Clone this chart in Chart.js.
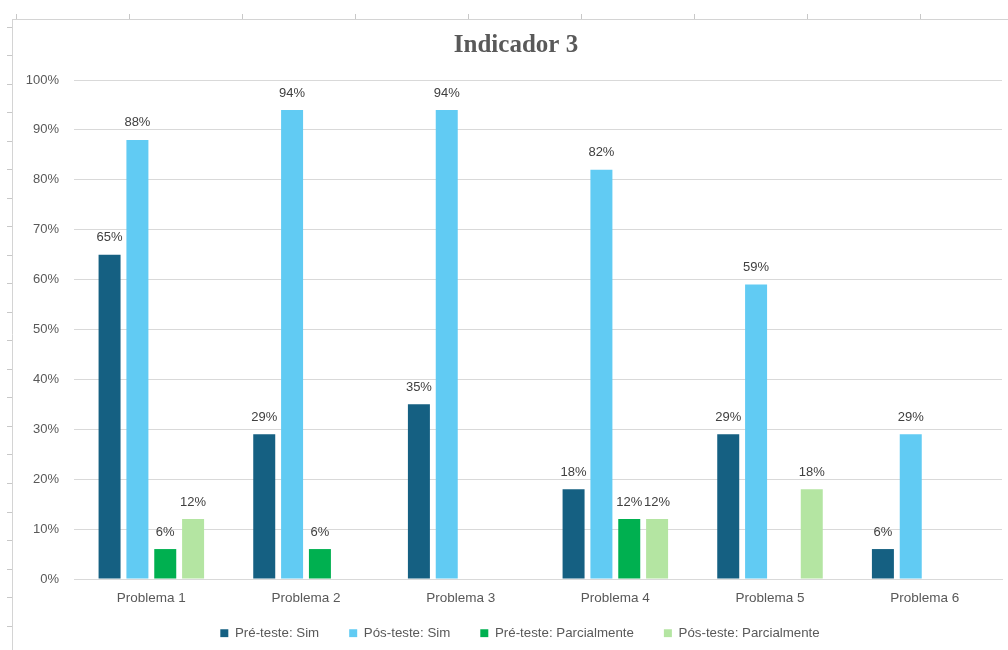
<!DOCTYPE html>
<html>
<head>
<meta charset="utf-8">
<title>Indicador 3</title>
<script src="https://cdn.jsdelivr.net/npm/chart.js@4"></script>
<style>
  html, body { margin: 0; padding: 0; background: #ffffff; }
  #wrap { width: 1008px; height: 650px; position: relative; }
  canvas { display: block; }
</style>
</head>
<body>
<div id="wrap"><canvas id="chart" width="1008" height="650"></canvas></div>
<script>
// Categories and series values (percent)
const categories = ['Problema 1', 'Problema 2', 'Problema 3', 'Problema 4', 'Problema 5', 'Problema 6'];
const preTesteSim = [65, 29, 35, 18, 29, 6];
const posTesteSim = [88, 94, 94, 82, 59, 29];
const preTesteParcial = [6, 6, null, 12, null, null];
const posTesteParcial = [12, null, null, 12, 18, null];
const yTicks = [0, 10, 20, 30, 40, 50, 60, 70, 80, 90, 100];

const seriesNames = ['Pré-teste: Sim', 'Pós-teste: Sim', 'Pré-teste: Parcialmente', 'Pós-teste: Parcialmente'];
const seriesColors = ['#156082', '#61CBF3', '#00B050', '#B4E5A2'];

const SANS = "'Liberation Sans', Arial, sans-serif";
const GRID = '#D9D9D9';
const TEXT = '#595959';

// Worksheet frame behind the chart (cell borders of the sheet)
const sheetFrame = {
  id: 'sheetFrame',
  beforeDraw(chart) {
    const ctx = chart.ctx;
    ctx.save();
    ctx.fillStyle = '#ffffff';
    ctx.fillRect(0, 0, chart.width, chart.height);
    ctx.strokeStyle = '#D4D4D4';
    ctx.lineWidth = 1;
    ctx.beginPath();
    ctx.moveTo(12, 19.5); ctx.lineTo(chart.width, 19.5);
    ctx.moveTo(12.5, 19); ctx.lineTo(12.5, chart.height);
    ctx.stroke();
    ctx.strokeStyle = '#C8C8C8';
    ctx.beginPath();
    [16, 129, 242, 355, 468, 581, 694, 807, 920].forEach(x => {
      ctx.moveTo(x + 0.5, 14); ctx.lineTo(x + 0.5, 19);
    });
    for (let y = 26.5; y < chart.height; y += 28.53) {
      const yy = Math.round(y) + 0.5;
      ctx.moveTo(7, yy); ctx.lineTo(12, yy);
    }
    ctx.stroke();
    ctx.restore();
  }
};

// Value labels above each bar, placed from the bar elements
const barValueLabels = {
  id: 'barValueLabels',
  afterDatasetsDraw(chart) {
    const ctx = chart.ctx;
    ctx.save();
    ctx.font = '13px ' + SANS;
    ctx.fillStyle = '#404040';
    ctx.textAlign = 'center';
    ctx.textBaseline = 'middle';
    chart.data.datasets.forEach((ds, di) => {
      const meta = chart.getDatasetMeta(di);
      meta.data.forEach((bar, i) => {
        const v = ds.data[i];
        if (v === null || v === undefined) return;
        ctx.fillText(v + '%', bar.x, bar.y - 17);
      });
    });
    ctx.restore();
  }
};

// Legend row and title placement: compact legend box, row set just under the axis labels
const LEGEND_PAD = 30;
const X_AXIS_H = 30;
const LEGEND_H = 650 - 579 - X_AXIS_H;
const boxTweaks = {
  id: 'boxTweaks',
  beforeLayout(chart) {
    const lg = chart.legend;
    if (lg && !lg._fitPatched) {
      const fit = lg.fit;
      lg.fit = function () { fit.call(this); this.height = LEGEND_H; };
      lg._fitPatched = true;
    }
  },
  afterLayout(chart) {
    const lg = chart.legend;
    if (lg) {
      lg.top = 633 - LEGEND_PAD - 6.5;
      lg.bottom = lg.top + LEGEND_H;
      lg.left += 7;
      lg.right += 7;
    }
    const tb = chart.titleBlock;
    if (tb) {
      tb.left += 3;
      tb.right += 3;
    }
  }
};

new Chart(document.getElementById('chart'), {
  type: 'bar',
  data: {
    labels: categories,
    datasets: [preTesteSim, posTesteSim, preTesteParcial, posTesteParcial].map((d, i) => ({
      label: seriesNames[i],
      data: d,
      backgroundColor: seriesColors[i],
      borderWidth: 0,
      categoryPercentage: 0.72,
      barPercentage: 0.79
    }))
  },
  options: {
    responsive: false,
    animation: false,
    layout: { padding: { left: 24, right: 6, top: 19, bottom: 0 } },
    plugins: {
      title: {
        display: true,
        text: 'Indicador 3',
        color: TEXT,
        font: { family: "'Liberation Serif', 'Times New Roman', serif", size: 25, weight: 'bold' },
        padding: { top: 12, bottom: 19 }
      },
      legend: {
        position: 'bottom',
        labels: {
          color: TEXT,
          font: { family: SANS, size: 13.3 },
          boxWidth: 8,
          boxHeight: 8,
          padding: LEGEND_PAD
        }
      },
      tooltip: { enabled: false }
    },
    scales: {
      x: {
        grid: { display: false, drawTicks: false },
        border: { display: true, color: GRID, width: 1 },
        ticks: { color: TEXT, font: { family: SANS, size: 13.5 }, padding: 11 },
        afterFit(scale) { scale.height = X_AXIS_H; }
      },
      y: {
        min: 0,
        max: 100,
        afterBuildTicks(scale) { scale.ticks = yTicks.map(v => ({ value: v })); },
        grid: { color: GRID, lineWidth: 1, drawTicks: false },
        border: { display: false },
        ticks: {
          color: TEXT,
          font: { family: SANS, size: 13 },
          padding: 15,
          callback: v => v + '%'
        },
        afterFit(scale) { scale.width = 50; }
      }
    }
  },
  plugins: [sheetFrame, barValueLabels, boxTweaks]
});
</script>
</body>
</html>
